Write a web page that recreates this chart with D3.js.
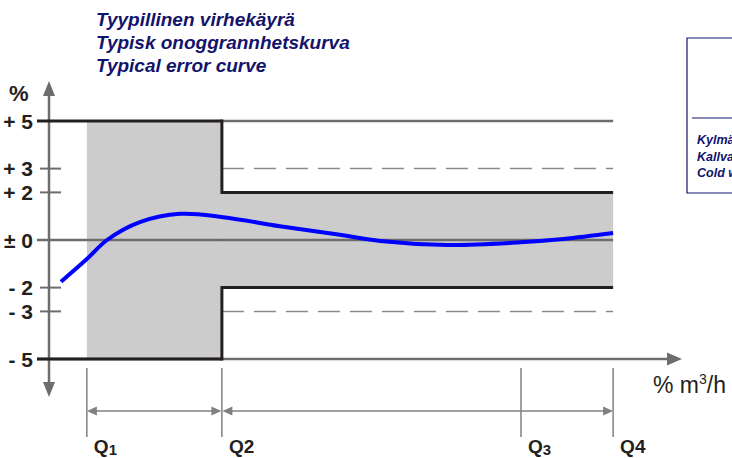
<!DOCTYPE html>
<html>
<head>
<meta charset="utf-8">
<script src="https://cdn.jsdelivr.net/npm/d3@7"></script>
<style>
  body { margin: 0; background: #fff; }
  svg { display: block; font-family: "Liberation Sans", Arial, sans-serif; }
</style>
</head>
<body>
<div id="chart"></div>
<script>
// titles
var titles = ["Tyypillinen virhekäyrä", "Typisk onoggrannhetskurva", "Typical error curve"];
var legendLines = ["Kylmä vesi", "Kallvatten", "Cold water"];

// y ticks (error %)
var yTicks = [5, 3, 2, 0, -2, -3, -5];
var yTickLabels = ["+ 5", "+ 3", "+ 2", "± 0", "- 2", "- 3", "- 5"];

// flow positions of Q1..Q4 (0..100 on the flow axis)
var qNames = ["1", "2", "3", "4"];
var qFlow = [6.0, 27.4, 74.8, 89.4];
var qSub = [true, false, true, false];

// limits: lower range (Q1..Q2) and upper range (Q2..Q4)
var lowLimit = 5, highLimit = 2, dashLimit = 3;

// typical error curve
var curveFlow = [1.9, 6.0, 9.2, 14.4, 20.8, 27.6, 36.6, 46.1, 52.5, 63.1, 73.5, 81.5, 89.4];
var curveErr = [-1.75, -0.8, 0, 0.75, 1.1, 0.96, 0.58, 0.22, -0.04, -0.21, -0.12, 0.04, 0.29];

var W = 732, H = 458;
var svg = d3.select("#chart").append("svg").attr("width", W).attr("height", H);

var x = d3.scaleLinear().domain([0, 100]).range([49, 680]);
var y = d3.scaleLinear().domain([-5, 5]).range([359, 121]);

var gray = "#6d6d6d", black = "#231f20", navy = "#13136b";

var q1 = x(qFlow[0]), q2 = x(qFlow[1]), q4 = x(qFlow[3]);

// grey tolerance band
svg.append("rect").attr("x", q1).attr("y", y(lowLimit))
  .attr("width", q2 - q1).attr("height", y(-lowLimit) - y(lowLimit)).attr("fill", "#cccccc");
svg.append("rect").attr("x", q2).attr("y", y(highLimit))
  .attr("width", q4 - q2).attr("height", y(-highLimit) - y(highLimit)).attr("fill", "#cccccc");

function hline(x1, x2, v, col, w, dash) {
  var l = svg.append("line").attr("x1", x1).attr("x2", x2)
    .attr("y1", y(v)).attr("y2", y(v)).attr("stroke", col).attr("stroke-width", w);
  if (dash) l.attr("stroke-dasharray", dash);
  return l;
}

// zero line and +5 grey continuation
hline(37, q4, 0, gray, 2.5);
hline(q2, q4, lowLimit, gray, 2.5);
// dashed 3% lines
hline(q2, q4, dashLimit, "#8a8a8a", 1.5, "22,10");
hline(q2, q4, -dashLimit, "#8a8a8a", 1.5, "22,10");

// x axis (at -5)
svg.append("line").attr("x1", 37).attr("x2", 668).attr("y1", y(-5)).attr("y2", y(-5))
  .attr("stroke", gray).attr("stroke-width", 2.5);
svg.append("path").attr("fill", gray)
  .attr("d", "M" + 682 + "," + y(-5) + "L" + 667 + "," + (y(-5) - 6.5) + "L" + 667 + "," + (y(-5) + 6.5) + "Z");

// y axis
svg.append("line").attr("x1", 49).attr("x2", 49).attr("y1", 92).attr("y2", 384)
  .attr("stroke", gray).attr("stroke-width", 2.5);
svg.append("path").attr("fill", gray).attr("d", "M49,81L43,96L55,96Z");
svg.append("path").attr("fill", gray).attr("d", "M49,397L43,382L55,382Z");

// short ticks
[3, 2, -2, -3].forEach(function (v) {
  svg.append("line").attr("x1", 40).attr("x2", 61).attr("y1", y(v)).attr("y2", y(v))
    .attr("stroke", gray).attr("stroke-width", 2);
});

// black limit lines
hline(37, q2, lowLimit, black, 3);
hline(37, q2, -lowLimit, black, 3);
hline(q2, q4, highLimit, black, 3);
hline(q2, q4, -highLimit, black, 3);
svg.append("line").attr("x1", q2).attr("x2", q2).attr("y1", y(lowLimit) - 1.5).attr("y2", y(highLimit) + 1.5)
  .attr("stroke", black).attr("stroke-width", 3);
svg.append("line").attr("x1", q2).attr("x2", q2).attr("y1", y(-highLimit) - 1.5).attr("y2", y(-lowLimit) + 1.5)
  .attr("stroke", black).attr("stroke-width", 3);

// y labels
svg.selectAll(".ylab").data(yTicks).enter().append("text")
  .attr("x", 33).attr("y", function (d) { return y(d) + 7.5; })
  .attr("text-anchor", "end").attr("font-size", 21).attr("font-weight", "bold")
  .attr("fill", black)
  .text(function (d, i) { return yTickLabels[i]; });
svg.append("text").attr("x", 9).attr("y", 101).attr("font-size", 22).attr("font-weight", "bold")
  .attr("fill", black).text("%");

// error curve
var line = d3.line().x(function (d) { return x(d[0]); }).y(function (d) { return y(d[1]); })
  .curve(d3.curveCatmullRom);
svg.append("path").datum(curveFlow.map(function (f, i) { return [f, curveErr[i]]; }))
  .attr("d", line).attr("fill", "none").attr("stroke", "#0000ff").attr("stroke-width", 4);

// Q markers and dimension arrows
var dimY = 411;
qFlow.forEach(function (f) {
  svg.append("line").attr("x1", x(f)).attr("x2", x(f)).attr("y1", 368).attr("y2", 437)
    .attr("stroke", gray).attr("stroke-width", 1.3);
});
function dim(a, b) {
  svg.append("line").attr("x1", a + 8).attr("x2", b - 8).attr("y1", dimY).attr("y2", dimY)
    .attr("stroke", "#808080").attr("stroke-width", 1.5);
  svg.append("path").attr("fill", "#808080")
    .attr("d", "M" + a + "," + dimY + "l10,-4.5l0,9Z");
  svg.append("path").attr("fill", "#808080")
    .attr("d", "M" + b + "," + dimY + "l-10,-4.5l0,9Z");
}
dim(x(qFlow[0]), x(qFlow[1]) - 0.5);
dim(x(qFlow[1]) + 0.5, x(qFlow[3]));

qFlow.forEach(function (f, i) {
  var t = svg.append("text").attr("x", x(f) + 7).attr("y", 453)
    .attr("font-size", 19).attr("font-weight", "bold").attr("fill", black);
  t.append("tspan").text("Q");
  if (qSub[i]) {
    t.append("tspan").attr("font-size", 15).attr("dy", 1.5).text(qNames[i]);
  } else {
    t.append("tspan").text(qNames[i]);
  }
});

// x unit
var xu = svg.append("text").attr("x", 653).attr("y", 393).attr("font-size", 23)
  .attr("fill", black);
xu.append("tspan").text("% m");
xu.append("tspan").attr("font-size", 14).attr("dy", -9).text("3");
xu.append("tspan").attr("dy", 9).text("/h");

// titles
svg.selectAll(".title").data(titles).enter().append("text")
  .attr("x", 96).attr("y", function (d, i) { return 26 + i * 23; })
  .attr("font-size", 19).attr("font-weight", "bold").attr("font-style", "italic")
  .attr("fill", navy).text(function (d) { return d; });

// legend box (cut off at the right)
svg.append("path").attr("fill", "none").attr("stroke", navy).attr("stroke-width", 1.2)
  .attr("d", "M740,38H687V193H740");
svg.append("line").attr("x1", 692).attr("x2", 740).attr("y1", 118).attr("y2", 118)
  .attr("stroke", navy).attr("stroke-width", 1.2);
svg.selectAll(".leg").data(legendLines).enter().append("text")
  .attr("x", 697).attr("y", function (d, i) { return 144 + i * 16.5; })
  .attr("font-size", 12.5).attr("font-weight", "bold").attr("font-style", "italic")
  .attr("fill", navy).text(function (d) { return d; });
</script>
</body>
</html>
